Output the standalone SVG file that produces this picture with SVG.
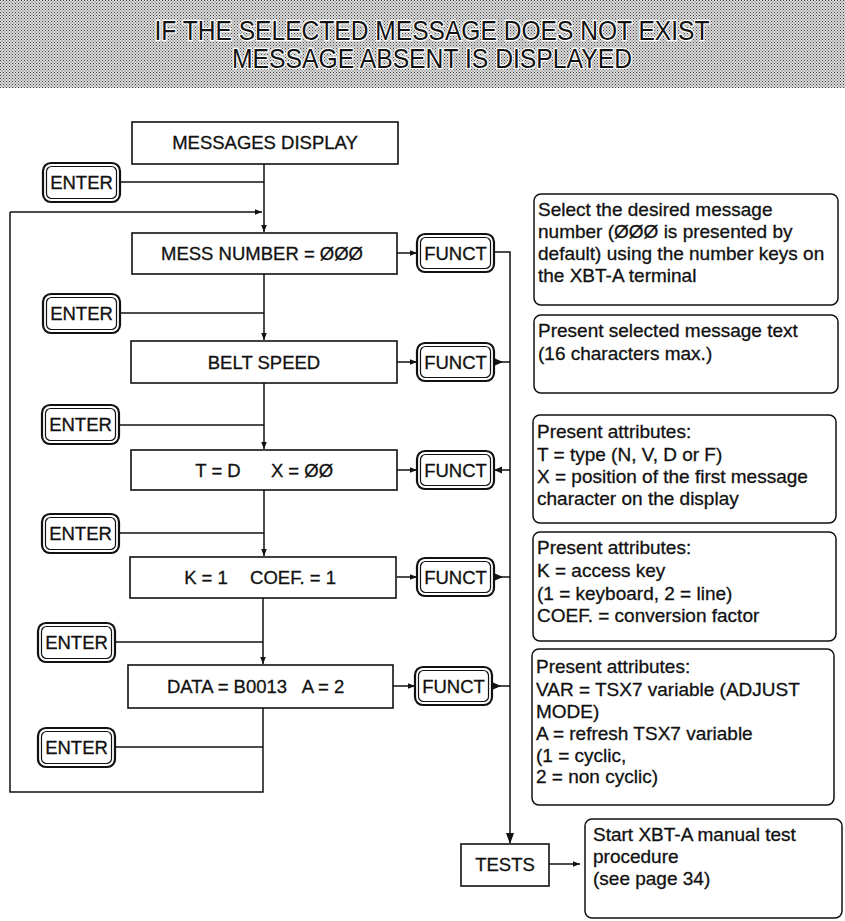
<svg xmlns="http://www.w3.org/2000/svg" width="845" height="921" viewBox="0 0 845 921">
<style>
  .t{font-family:"Liberation Sans",Arial,Helvetica,sans-serif;fill:#111;stroke:#111;stroke-width:0.3}
  .box{fill:#fff;stroke:#111;stroke-width:1.6}
  .info{fill:#fff;stroke:#111;stroke-width:1.5}
  .key-o{fill:#fff;stroke:#111;stroke-width:2.2}
  .key-i{fill:none;stroke:#111;stroke-width:1.2}
  .ln{fill:none;stroke:#111;stroke-width:1.5}
  .bt{font-size:18.5px;text-anchor:middle}
  .kt{font-size:18.5px;text-anchor:middle}
  .it{font-size:19px}
  .hd{font-size:27px;text-anchor:middle;stroke:#fff;stroke-width:2.5;paint-order:stroke}
</style>
<defs>
  <pattern id="ht" width="3" height="3" patternUnits="userSpaceOnUse">
    <rect width="3" height="3" fill="#d8d8d8"/>
    <rect x="0" y="0" width="1" height="1" fill="#444"/>
    <rect x="1.5" y="1.5" width="1" height="1" fill="#666"/>
  </pattern>
  <marker id="arL" viewBox="0 0 10 10" refX="10" refY="5" markerWidth="11" markerHeight="7" orient="auto" markerUnits="userSpaceOnUse">
    <path d="M0,1 L10,5 L0,9 z" fill="#111"/>
  </marker>
</defs>

<g id="header">
  <rect x="0" y="0" width="845" height="88" fill="url(#ht)"/>
  <text class="t hd" x="432" y="40" textLength="555" lengthAdjust="spacingAndGlyphs">IF THE SELECTED MESSAGE DOES NOT EXIST</text>
  <text class="t hd" x="432" y="68" textLength="400" lengthAdjust="spacingAndGlyphs">MESSAGE ABSENT IS DISPLAYED</text>
</g>

<g id="connectors">
  <line class="ln" x1="264" y1="164" x2="264" y2="232" marker-end="url(#arL)"/>
  <line class="ln" x1="264" y1="274" x2="264" y2="340" marker-end="url(#arL)"/>
  <line class="ln" x1="264" y1="383" x2="264" y2="449" marker-end="url(#arL)"/>
  <line class="ln" x1="264" y1="490" x2="264" y2="556" marker-end="url(#arL)"/>
  <line class="ln" x1="263" y1="598" x2="263" y2="664" marker-end="url(#arL)"/>
  <polyline class="ln" points="263,708 263,792 10,792 10,212"/>
  <line class="ln" x1="10" y1="212" x2="262" y2="212" marker-end="url(#arL)"/>
  <line class="ln" x1="120" y1="182" x2="264" y2="182"/>
  <line class="ln" x1="120" y1="313" x2="264" y2="313"/>
  <line class="ln" x1="120" y1="425" x2="264" y2="425"/>
  <line class="ln" x1="120" y1="533" x2="264" y2="533"/>
  <line class="ln" x1="115" y1="642" x2="263" y2="642"/>
  <line class="ln" x1="115" y1="747" x2="263" y2="747"/>
  <line class="ln" x1="397" y1="253" x2="417" y2="253" marker-end="url(#arL)"/>
  <line class="ln" x1="397" y1="362" x2="417" y2="362" marker-end="url(#arL)"/>
  <line class="ln" x1="397" y1="470" x2="417" y2="470" marker-end="url(#arL)"/>
  <line class="ln" x1="397" y1="577" x2="417" y2="577" marker-end="url(#arL)"/>
  <line class="ln" x1="393" y1="686" x2="415" y2="686" marker-end="url(#arL)"/>
  <polyline class="ln" points="494,252 510,252 510,843"/>
  <path d="M510,844 L506,833 L514,833 z" fill="#111"/>
  <line class="ln" x1="494" y1="362" x2="510" y2="362"/>
  <path d="M495,358.5 L503,362 L495,365.5 z" fill="#111"/>
  <line class="ln" x1="494" y1="470" x2="510" y2="470"/>
  <path d="M494,470 L502,466.5 L502,473.5 z" fill="#111"/>
  <line class="ln" x1="494" y1="577" x2="510" y2="577"/>
  <path d="M495,573.5 L503,577 L495,580.5 z" fill="#111"/>
  <line class="ln" x1="492" y1="686" x2="510" y2="686"/>
  <path d="M493,682.5 L501,686 L493,689.5 z" fill="#111"/>
  <line class="ln" x1="549" y1="864" x2="580" y2="864" marker-end="url(#arL)"/>
</g>

<g id="n-messages-display">
  <rect class="box" x="132" y="122" width="266" height="42"/>
  <text class="t bt" x="265" y="149">MESSAGES DISPLAY</text>
</g>
<g id="n-mess-number">
  <rect class="box" x="132" y="233" width="265" height="41"/>
  <text class="t bt" x="262" y="260">MESS NUMBER = ØØØ</text>
</g>
<g id="n-belt-speed">
  <rect class="box" x="131" y="341" width="266" height="42"/>
  <text class="t bt" x="264" y="369">BELT SPEED</text>
</g>
<g id="n-type">
  <rect class="box" x="131" y="450" width="266" height="40"/>
  <text class="t bt" x="218" y="477">T = D</text>
  <text class="t bt" x="302" y="477">X = ØØ</text>
</g>
<g id="n-key">
  <rect class="box" x="130" y="557" width="266" height="41"/>
  <text class="t bt" x="206" y="584">K = 1</text>
  <text class="t bt" x="293" y="584">COEF. = 1</text>
</g>
<g id="n-data">
  <rect class="box" x="128" y="665" width="265" height="43"/>
  <text class="t bt" x="227" y="693">DATA = B0013</text>
  <text class="t bt" x="323" y="693">A = 2</text>
</g>
<g id="n-tests">
  <rect class="box" x="461" y="844" width="88" height="42"/>
  <text class="t bt" x="505" y="871">TESTS</text>
</g>

<g id="n-enter-1">
  <rect class="key-o" x="43" y="163" width="77" height="39" rx="8"/>
  <rect class="key-i" x="46.5" y="166.5" width="70" height="32" rx="5"/>
  <text class="t kt" x="81.5" y="189">ENTER</text>
</g>
<g id="n-enter-2">
  <rect class="key-o" x="43" y="294" width="77" height="39" rx="8"/>
  <rect class="key-i" x="46.5" y="297.5" width="70" height="32" rx="5"/>
  <text class="t kt" x="81.5" y="320">ENTER</text>
</g>
<g id="n-enter-3">
  <rect class="key-o" x="42" y="405" width="77" height="39" rx="8"/>
  <rect class="key-i" x="45.5" y="408.5" width="70" height="32" rx="5"/>
  <text class="t kt" x="80.5" y="431">ENTER</text>
</g>
<g id="n-enter-4">
  <rect class="key-o" x="42" y="514" width="77" height="39" rx="8"/>
  <rect class="key-i" x="45.5" y="517.5" width="70" height="32" rx="5"/>
  <text class="t kt" x="80.5" y="540">ENTER</text>
</g>
<g id="n-enter-5">
  <rect class="key-o" x="38" y="623" width="77" height="39" rx="8"/>
  <rect class="key-i" x="41.5" y="626.5" width="70" height="32" rx="5"/>
  <text class="t kt" x="76.5" y="649">ENTER</text>
</g>
<g id="n-enter-6">
  <rect class="key-o" x="38" y="728" width="77" height="39" rx="8"/>
  <rect class="key-i" x="41.5" y="731.5" width="70" height="32" rx="5"/>
  <text class="t kt" x="76.5" y="754">ENTER</text>
</g>

<g id="n-funct-1">
  <rect class="key-o" x="417" y="234" width="77" height="38" rx="8"/>
  <rect class="key-i" x="420.5" y="237.5" width="70" height="31" rx="5"/>
  <text class="t kt" x="455.5" y="260">FUNCT</text>
</g>
<g id="n-funct-2">
  <rect class="key-o" x="417" y="343" width="77" height="38" rx="8"/>
  <rect class="key-i" x="420.5" y="346.5" width="70" height="31" rx="5"/>
  <text class="t kt" x="455.5" y="369">FUNCT</text>
</g>
<g id="n-funct-3">
  <rect class="key-o" x="417" y="451" width="77" height="38" rx="8"/>
  <rect class="key-i" x="420.5" y="454.5" width="70" height="31" rx="5"/>
  <text class="t kt" x="455.5" y="477">FUNCT</text>
</g>
<g id="n-funct-4">
  <rect class="key-o" x="417" y="558" width="77" height="38" rx="8"/>
  <rect class="key-i" x="420.5" y="561.5" width="70" height="31" rx="5"/>
  <text class="t kt" x="455.5" y="584">FUNCT</text>
</g>
<g id="n-funct-5">
  <rect class="key-o" x="415" y="667" width="77" height="38" rx="8"/>
  <rect class="key-i" x="418.5" y="670.5" width="70" height="31" rx="5"/>
  <text class="t kt" x="453.5" y="693">FUNCT</text>
</g>

<g id="n-info-1">
  <rect class="info" x="534" y="194" width="304" height="111" rx="7"/>
  <text class="t it" x="538" y="216">Select the desired message</text>
  <text class="t it" x="538" y="238">number (ØØØ is presented by</text>
  <text class="t it" x="538" y="260">default) using the number keys on</text>
  <text class="t it" x="538" y="282">the XBT-A terminal</text>
</g>
<g id="n-info-2">
  <rect class="info" x="534" y="315" width="304" height="78" rx="7"/>
  <text class="t it" x="538" y="337">Present selected message text</text>
  <text class="t it" x="538" y="360">(16 characters max.)</text>
</g>
<g id="n-info-3">
  <rect class="info" x="533" y="415" width="303" height="108" rx="7"/>
  <text class="t it" x="537" y="438">Present attributes:</text>
  <text class="t it" x="537" y="461">T = type (N, V, D or F)</text>
  <text class="t it" x="537" y="483">X = position of the first message</text>
  <text class="t it" x="537" y="505">character on the display</text>
</g>
<g id="n-info-4">
  <rect class="info" x="533" y="532" width="303" height="109" rx="7"/>
  <text class="t it" x="537" y="554">Present attributes:</text>
  <text class="t it" x="537" y="577">K = access key</text>
  <text class="t it" x="537" y="600">(1 = keyboard, 2 = line)</text>
  <text class="t it" x="537" y="622">COEF. = conversion factor</text>
</g>
<g id="n-info-5">
  <rect class="info" x="532" y="649" width="302" height="156" rx="7"/>
  <text class="t it" x="536" y="673">Present attributes:</text>
  <text class="t it" x="536" y="696">VAR = TSX7 variable (ADJUST</text>
  <text class="t it" x="536" y="718">MODE)</text>
  <text class="t it" x="536" y="740">A = refresh TSX7 variable</text>
  <text class="t it" x="536" y="762">(1 = cyclic,</text>
  <text class="t it" x="536" y="783">2 = non cyclic)</text>
</g>
<g id="n-info-6">
  <rect class="info" x="585" y="819" width="257" height="99" rx="7"/>
  <text class="t it" x="593" y="841">Start XBT-A manual test</text>
  <text class="t it" x="593" y="863">procedure</text>
  <text class="t it" x="593" y="885">(see page 34)</text>
</g>
</svg>
